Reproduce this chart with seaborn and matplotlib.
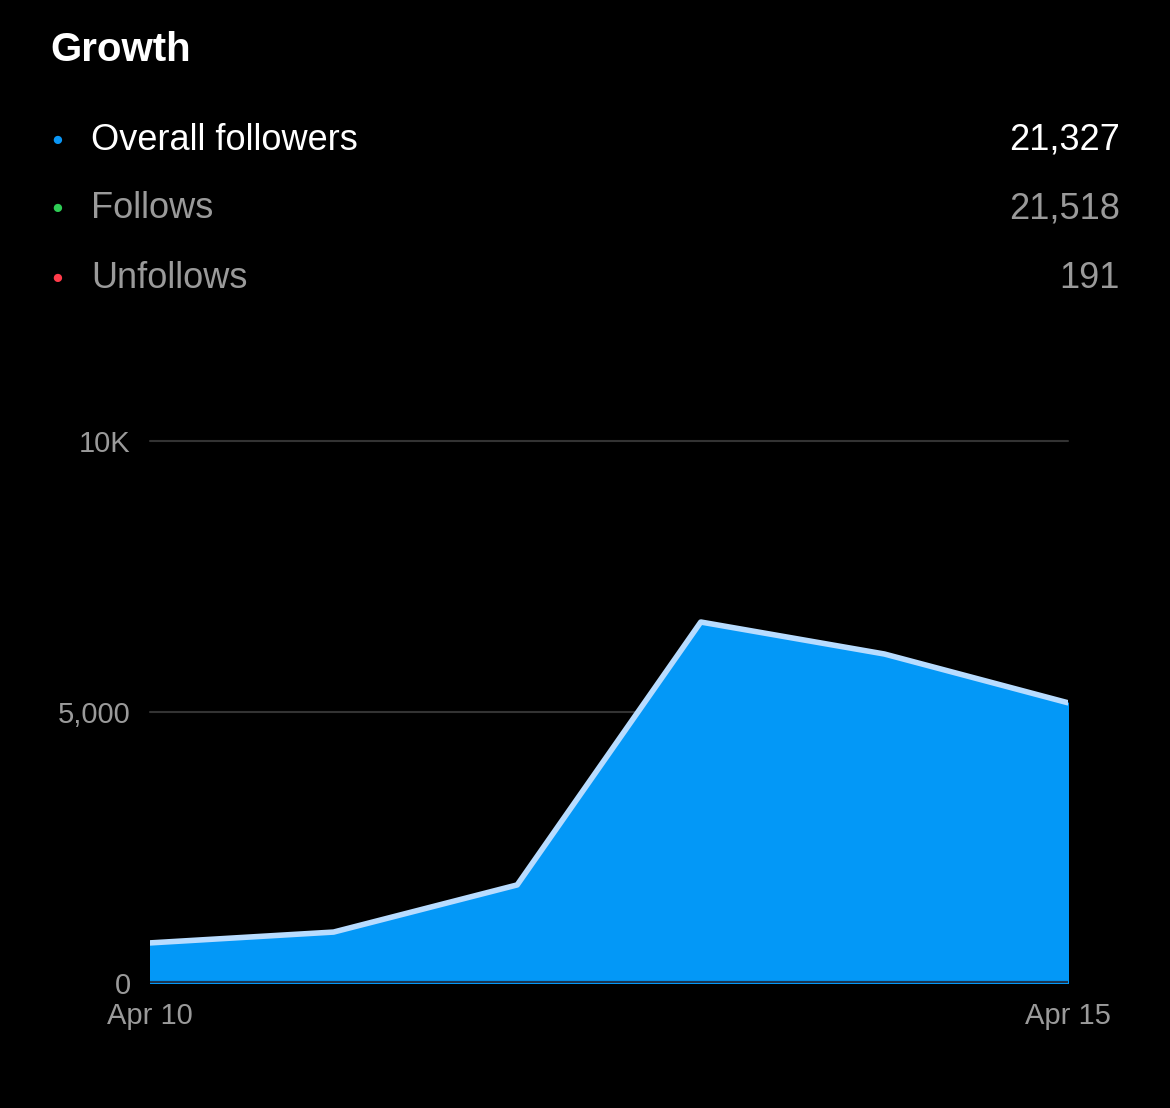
import matplotlib
matplotlib.use('Agg')
import matplotlib.pyplot as plt
import seaborn as sns
import pandas as pd

days = ['Apr 10', 'Apr 11', 'Apr 12', 'Apr 13', 'Apr 14', 'Apr 15']
followers = [740, 940, 1810, 6660, 6070, 5170]
legend_names = ['Overall followers', 'Follows', 'Unfollows']
legend_values = ['21,327', '21,518', '191']
legend_colors = ['#0a96f5', '#2ecc55', '#ff3b4a']

sns.set_style('dark')
plt.rcParams['font.family'] = ['Liberation Sans', 'DejaVu Sans']

df = pd.DataFrame({'x': range(len(days)), 'y': followers})

fig = plt.figure(figsize=(11.7, 11.08), dpi=100, facecolor='black')
ax = fig.add_axes([0.1282, 0.1128, 0.7846, 0.4892])
ax.set_facecolor('black')

ax.fill_between(df['x'], df['y'], 0, color='#0398f7', zorder=2)
sns.lineplot(data=df, x='x', y='y', ax=ax, color='#b8dcff', linewidth=4, zorder=3)

ax.set_xlim(0, len(days) - 1)
ax.set_ylim(0, 10000)
for v in [5000, 10000]:
    ax.axhline(v, color='#333333', linewidth=1.5, zorder=1, clip_on=False)
ax.axhline(0, color='#1c3550', linewidth=3, zorder=4)
for s in ax.spines.values():
    s.set_visible(False)
ax.grid(False)
ax.set_yticks([0, 5000, 10000])
ax.set_yticklabels(['0', '5,000', '10K'])
ax.set_xticks([0, len(days) - 1])
ax.set_xticklabels([days[0], days[-1]])
ax.tick_params(colors='#9a9a9a', labelsize=21, length=0, pad=14)
ax.set_xlabel('')
ax.set_ylabel('')

fig.text(50 / 1170, 1 - 50 / 1108, 'Growth', color='white', fontsize=29,
         fontweight='bold', va='center')
for i, (n, v, c) in enumerate(zip(legend_names, legend_values, legend_colors)):
    y = 1 - (140 + 69 * i) / 1108
    tc = 'white' if i == 0 else '#9a9a9a'
    fig.text(57 / 1170, y, '●', color=c, fontsize=14, va='center', ha='center')
    fig.text(91 / 1170, y, n, color=tc, fontsize=26, va='center')
    fig.text(1120 / 1170, y, v, color=tc, fontsize=26, va='center', ha='right')

fig.savefig('out.png', facecolor='black')
